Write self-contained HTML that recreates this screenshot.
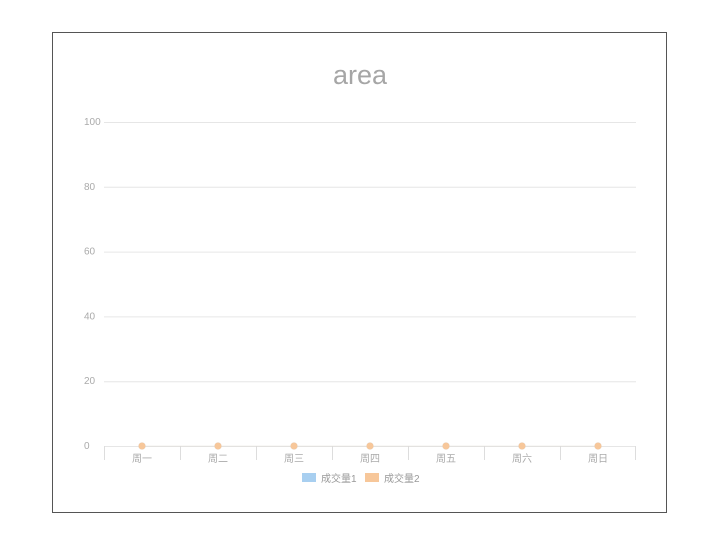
<!DOCTYPE html>
<html><head><meta charset="utf-8"><style>
body{margin:0;background:#fff;width:720px;height:540px;overflow:hidden}
svg text{font-family:"Liberation Sans","Noto Sans CJK SC",sans-serif}
</style></head><body>
<svg width="720" height="540">
<rect x="52.5" y="32.5" width="614" height="480" fill="#fff" stroke="#555"/>
<text x="360" y="84" text-anchor="middle" font-size="27" fill="#a6a6a6">area</text>
<g id="grid"></g><g id="marks"></g>
<g>
<g><rect x="302" y="473" width="14" height="9" fill="#a8cff0"/><text x="321" y="482" font-size="10" fill="#999">成交量1</text></g>
<g><rect x="365" y="473" width="14" height="9" fill="#f7c79a"/><text x="384" y="482" font-size="10" fill="#999">成交量2</text></g>
</g>
</svg>
<script>
const categories=["周一","周二","周三","周四","周五","周六","周日"];
const series1=[0,0,0,0,0,0,0];
const series2=[0,0,0,0,0,0,0];
const yTicks=[0,20,40,60,80,100];
const X0=104,X1=636,Y0=446,Y1=122;
const bw=(X1-X0)/categories.length;
const xs=i=>X0+bw*(i+0.5);
const ys=v=>Y0-(v/100)*(Y0-Y1);
const ns="http://www.w3.org/2000/svg";
const g=document.getElementById('grid'),m=document.getElementById('marks');
function mk(p,t,a){const e=document.createElementNS(ns,t);for(const k in a)e.setAttribute(k,a[k]);p.appendChild(e);return e;}
yTicks.forEach(v=>{
 const l=mk(g,'line',{x1:X0,x2:X1,y1:ys(v)+.5,y2:ys(v)+.5,stroke:'#e6e6e6'});
 
 
 const t=mk(g,'text',{x:84,y:ys(v)+3,'text-anchor':'start','font-size':10,fill:'#aaa'});
 t.textContent=v;
 
 
});
categories.forEach((c,i)=>{
 const tk=mk(g,'line',{x1:X0+bw*i+.5,x2:X0+bw*i+.5,y1:Y0,y2:Y0+14,stroke:'#ddd'});
 
 
 const t=mk(g,'text',{x:xs(i),y:Y0+16,'text-anchor':'middle','font-size':10,fill:'#aaa'});
 t.textContent=c;
 
 
});
const te=mk(g,'line',{x1:X1-.5,x2:X1-.5,y1:Y0,y2:Y0+14,stroke:'#ddd'});


[[series1,'#a8cff0'],[series2,'#f7c79a']].forEach(([s,col],k)=>{
 const pts=s.map((v,i)=>xs(i)+','+ys(v)).join(' ');
 const a=mk(m,'polygon',{points:xs(0)+','+Y0+' '+pts+' '+xs(s.length-1)+','+Y0,fill:col,'fill-opacity':.5});
 
 
 const l=mk(m,'polyline',{points:pts,fill:'none',stroke:col,'stroke-width':1,'stroke-opacity':0.15});
 
 
 s.forEach((v,i)=>{
  const c=mk(m,'circle',{cx:xs(i),cy:ys(v),r:3.5,fill:col});
  
  
 });
});
</script>
</body></html>
